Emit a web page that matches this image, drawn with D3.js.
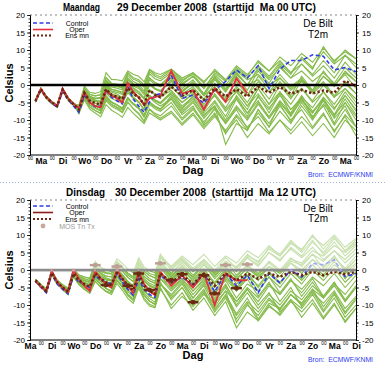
<!DOCTYPE html>
<html><head><meta charset="utf-8">
<script src="https://cdn.jsdelivr.net/npm/d3@7"></script>
<style>
body{margin:0;background:#fff}
svg{display:block;font-family:"Liberation Sans",Arial,Helvetica,sans-serif}
text{white-space:pre}
</style>
</head><body>
<svg id="c" width="386" height="366"></svg>
<script>
// ---------- DATA ----------
const leadHours = [6,12,18,24,30,36,42,48,54,60,66,72,78,84,90,96,102,108,114,120,126,132,138,144,
  156,168,180,192,204,216,228,240,252,264,276,288,300,312,324,336,348,360];
const yTickValues = [-20,-15,-10,-5,0,5,10,15,20];
const dayNamesTop = ["Ma","Di","Wo","Do","Vr","Za","Zo","Ma","Di","Wo","Do","Vr","Za","Zo","Ma"];
const dayNamesBottom = ["Ma","Di","Wo","Do","Vr","Za","Zo","Ma","Di","Wo","Do","Vr","Za","Zo","Ma","Di"];
const titleDayTop = "Maandag", titleRestTop = "29 December 2008  (starttijd  Ma 00 UTC)";
const titleDayBottom = "Dinsdag", titleRestBottom = "30 December 2008  (starttijd  Ma 12 UTC)";

// Top run (Ma 00 UTC)
const topControl = [-4.6,-1.3,-3.6,-5.2,-6.3,-1.8,-4.2,-6.0,
  -7.8,-3.0,-5.0,-6.2,-6.0,-1.5,-3.5,-4.5,-5.4,-0.5,-4.0,-6.0,-7.8,-4.8,-2.9,-2.5,
  2.8,-3.8,-2.9,-5.2,-1.5,1.0,4.3,2.0,5.5,-1.0,4.5,7.0,7.0,8.6,8.2,4.3,5.0,3.8];
const topOper = [-4.5,-1.1,-3.4,-4.9,-5.9,-1.0,-3.8,-5.4,
  -6.6,-2.0,-5.0,-6.0,-6.4,-1.5,-3.0,-3.8,-5.0,0.6,-2.0,-3.5,-5.8,-3.8,-3.5,-3.0,
  4.0,-2.5,-1.5,-7.0,-1.0,-4.8,1.9,-2.4];
const topEnsMean = [-4.6,-1.2,-3.5,-5.0,-6.0,-1.3,-4.0,-5.5,
  -7.0,-2.3,-4.5,-5.2,-5.5,-1.2,-2.8,-3.3,-4.0,-0.8,-2.5,-3.5,-5.5,-1.5,-2.8,-3.5,
  -0.5,-3.0,-1.5,-4.3,-1.0,-3.3,-1.2,-3.3,-0.5,-2.2,-0.6,-2.5,-1.4,-2.4,-1.6,-2.2,1.2,-0.3];
const topMembers = [
 [-4.8,-1.4,-3.7,-5.2,-6.2,-1.5,-4.2,-5.7,-7.6,-3.3,-5.7,-6.6,-7.3,-3.4,-5.0,-5.7,-6.6,-3.6,-5.3,-6.5,-8.7,-5.0,-6.3,-7.0,-4.0,-8.0,-5.0,-9.5,-6.0,-11.0,-7.0,-12.5,-8.0,-12.0,-7.5,-11.0,-6.0,-10.0,-5.5,-9.0,-4.0,-8.5],
 [-4.5,-1.1,-3.4,-4.9,-5.9,-1.2,-3.9,-5.4,-6.4,-1.3,-3.3,-3.8,-3.7,1.0,-0.6,-0.9,-1.4,2.0,0.3,-0.5,-2.3,2.0,0.7,0.0,3.0,0.0,2.5,-1.0,3.5,1.0,5.0,2.5,7.0,4.0,8.0,5.5,9.0,6.5,10.5,7.0,9.5,7.5],
 [-4.6,-1.2,-3.5,-5.0,-6.0,-1.3,-4.0,-5.5,-7.3,-2.8,-5.1,-5.9,-6.4,-2.3,-3.9,-4.5,-5.3,-2.2,-3.9,-5.0,-7.1,-3.3,-4.6,-5.3,-2.0,-6.0,-3.5,-8.5,-6.0,-17.0,-11.0,-13.0,-7.0,-12.0,-5.0,-9.0,-4.0,-8.0,-3.5,-7.0,-2.0,-6.0],
 [-4.4,-1.0,-3.3,-4.8,-5.8,-1.1,-3.7,-5.2,-6.7,-1.8,-3.9,-4.5,-4.6,-0.1,-1.7,-2.1,-2.7,0.6,-1.1,-2.0,-3.9,0.3,-1.1,-1.8,1.5,-2.0,0.5,-3.0,1.5,-2.0,2.5,-1.5,4.0,0.5,5.5,2.0,6.0,3.0,7.0,3.5,8.5,5.0],
 [-4.7,-1.3,-3.6,-5.1,-6.1,-1.4,-4.1,-5.6,-7.9,-3.8,-6.3,-7.3,-8.2,-4.5,-6.1,-6.9,-7.9,-5.0,-6.7,-8.0,-10.3,-6.8,-8.1,-8.8,-6.0,-10.0,-7.0,-11.0,-6.5,-10.5,-6.0,-9.5,-5.0,-9.0,-4.5,-8.0,-3.0,-7.5,-4.0,-9.5,-6.0,-12.0],
 [-4.3,-0.9,-3.2,-4.7,-5.7,-1.0,-3.6,-5.1,-6.1,-0.8,-2.7,-3.1,-2.8,2.1,0.5,0.3,-0.1,3.4,1.7,1.0,-0.7,3.8,2.5,1.8,4.0,1.0,3.5,0.5,4.5,1.5,5.5,3.0,6.5,4.0,7.0,3.5,6.0,2.5,5.5,2.0,6.5,3.0],
 [-4.9,-1.5,-3.8,-5.3,-6.3,-1.6,-4.3,-5.8,-7.0,-2.3,-4.5,-5.2,-5.5,-1.2,-2.8,-3.3,-4.5,-1.5,-3.5,-4.8,-7.0,-3.5,-5.0,-6.0,-4.0,-8.5,-6.0,-11.5,-8.0,-14.0,-9.0,-13.0,-7.0,-11.0,-6.0,-10.0,-7.0,-12.0,-8.0,-13.5,-8.5,-12.0],
 [-4.5,-1.1,-3.4,-4.9,-5.9,-1.2,-3.9,-5.4,-6.7,-1.8,-3.9,-4.5,-4.8,-0.5,-2.5,-3.3,-4.5,-1.5,-3.5,-4.8,-7.0,-3.0,-4.2,-5.0,-2.0,-5.0,-2.5,-5.5,-1.5,-4.0,-0.5,-3.0,1.0,-2.0,2.0,-1.0,1.5,-1.5,2.5,0.0,3.5,1.0],
 [-4.8,-1.4,-3.7,-5.2,-6.2,-1.5,-4.2,-5.7,-7.6,-3.3,-5.7,-6.6,-7.5,-3.8,-5.6,-6.5,-7.8,-4.8,-6.8,-8.3,-10.5,-7.0,-8.5,-9.5,-7.5,-11.0,-8.0,-12.0,-8.5,-13.5,-10.0,-15.0,-11.0,-14.0,-10.0,-13.0,-9.0,-12.5,-8.5,-13.0,-9.0,-14.5],
 [-4.4,-1.0,-3.3,-4.8,-5.8,-1.1,-3.7,-5.2,-6.4,-1.3,-3.3,-3.8,-3.5,1.4,0.0,-0.1,-0.5,3.6,2.1,1.5,0.0,4.3,3.0,2.3,4.5,2.0,3.5,1.0,4.0,1.5,4.5,2.0,5.5,2.5,6.5,3.5,7.5,4.5,11.0,6.5,10.0,7.5],
 [-4.6,-1.2,-3.5,-5.0,-6.0,-1.3,-4.0,-5.5,-7.0,-2.3,-4.5,-5.2,-5.5,-1.2,-2.8,-3.3,-4.0,-0.8,-2.5,-3.5,-5.5,-1.5,-2.8,-3.5,-0.5,-3.5,-1.0,-4.5,-1.5,-5.0,-2.0,-6.0,-2.5,-6.5,-3.0,-7.0,-3.5,-6.5,-2.0,-5.5,-1.0,-4.0],
 [-4.7,-1.3,-3.6,-5.1,-6.1,-1.4,-4.1,-5.6,-7.3,-2.8,-5.1,-5.9,-6.0,-1.5,-2.8,-3.0,-3.5,0.0,-1.5,-2.5,-4.0,0.0,-1.2,-1.8,1.0,-2.5,-0.5,-4.0,0.5,-3.5,1.0,-3.0,2.5,-1.0,3.0,-0.5,2.0,-2.0,1.0,-3.0,0.5,-2.5],
 [-4.5,-1.1,-3.4,-4.9,-5.9,-1.2,-3.9,-5.4,-7.9,-3.8,-6.3,-7.3,-8.0,-4.2,-5.6,-6.3,-7.2,-4.0,-5.5,-6.6,-8.6,-4.8,-6.0,-6.8,-3.5,-7.5,-4.5,-9.0,-5.0,-10.0,-4.0,-9.0,-3.0,-8.0,-2.5,-8.5,-3.5,-9.5,-4.5,-11.0,-5.0,-10.0],
 [-4.4,-1.0,-3.3,-4.8,-5.8,-1.1,-3.7,-5.2,-6.1,-0.8,-2.7,-3.1,-2.8,2.1,0.3,-0.2,-1.0,2.0,0.3,-0.5,-2.3,2.0,0.7,0.0,2.5,-1.0,1.5,-2.5,2.0,-1.5,3.0,0.0,4.5,1.5,5.0,2.0,4.0,1.0,3.5,0.5,5.0,2.0],
 [-4.9,-1.5,-3.8,-5.3,-6.3,-1.6,-4.3,-5.8,-7.3,-2.8,-5.1,-6.1,-6.8,-3.0,-4.8,-5.6,-6.9,-3.8,-5.5,-6.8,-9.3,-5.5,-6.8,-7.5,-5.0,-9.5,-6.5,-10.5,-7.0,-11.0,-6.5,-10.0,-5.5,-9.5,-5.0,-8.5,-4.5,-8.0,-4.0,-8.5,-5.0,-9.0],
 [-4.6,-1.2,-3.5,-5.0,-6.0,-1.3,-4.0,-5.5,-6.7,-1.8,-3.9,-4.5,-4.6,-0.3,-2.0,-2.6,-3.6,-0.5,-2.3,-3.3,-5.3,-1.3,-2.6,-3.3,0.0,-4.0,-2.0,-6.0,-3.0,-7.5,-4.0,-8.0,-3.5,-7.0,-2.0,-5.5,-1.0,-4.5,0.0,-3.5,1.0,-2.5],
 [-4.5,-1.1,-3.4,-4.9,-5.9,-1.2,-3.9,-5.4,-5.8,-0.3,-2.1,-2.4,-1.9,3.5,1.6,1.5,1.2,4.0,3.1,2.5,0.9,4.5,3.5,3.0,4.5,1.5,3.0,-0.5,2.0,-1.5,3.5,0.0,5.0,2.0,6.0,3.0,8.0,5.0,9.5,6.0,8.5,6.0],
 [-4.7,-1.3,-3.6,-5.1,-6.1,-1.4,-4.1,-5.6,-8.2,-4.3,-6.9,-8.0,-9.1,-5.6,-7.2,-8.1,-9.2,-6.4,-8.1,-9.5,-11.0,-8.0,-9.0,-10.0,-8.0,-11.5,-8.5,-12.5,-9.0,-13.0,-8.5,-12.0,-9.0,-13.5,-10.0,-14.0,-10.5,-14.5,-11.0,-15.0,-10.0,-13.0],
 [-4.4,-1.0,-3.3,-4.8,-5.8,-1.1,-3.7,-5.2,-7.0,-2.3,-4.3,-4.8,-4.8,0.0,-1.3,-1.6,-2.0,1.5,-0.3,-1.0,-2.8,1.5,0.2,-0.5,2.0,-1.5,0.5,-3.0,-0.5,-4.5,-1.0,-5.0,0.0,-4.0,1.0,-3.0,2.5,-1.5,4.0,0.0,3.0,-1.0],
 [-4.8,-1.4,-3.7,-5.2,-6.2,-1.5,-4.2,-5.7,-7.6,-3.3,-5.7,-6.6,-7.3,-3.4,-5.0,-5.7,-6.6,-3.6,-5.3,-6.5,-8.7,-5.0,-6.3,-7.0,-3.0,-7.0,-3.0,-7.5,-2.5,-6.5,-1.5,-6.0,-1.0,-5.5,-2.0,-7.0,-4.0,-9.0,-6.0,-11.5,-7.0,-12.0],
 [-4.6,-1.2,-3.5,-5.0,-6.0,-1.3,-4.0,-5.5,-6.4,-1.3,-3.5,-4.3,-5.0,-0.8,-2.9,-3.9,-5.0,-1.7,-3.6,-4.8,-7.0,-3.0,-4.4,-5.3,-2.5,-6.5,-4.0,-8.0,-4.5,-9.0,-3.0,-7.0,-1.0,-5.5,0.0,-4.0,1.5,-2.5,0.5,-3.5,-1.0,-5.0],
 [-4.5,-1.1,-3.4,-4.9,-5.9,-1.2,-3.9,-5.4,-6.7,-1.8,-3.7,-4.0,-3.8,1.0,-0.2,-0.4,-0.8,2.8,1.0,0.2,-1.7,3.2,1.8,1.2,3.5,0.5,2.5,-1.0,3.0,0.0,4.0,1.5,3.0,0.0,2.0,-1.5,1.0,-2.0,2.5,-0.5,4.0,1.0],
 [-4.7,-1.3,-3.6,-5.1,-6.1,-1.4,-4.1,-5.6,-7.3,-2.8,-5.1,-5.9,-6.2,-1.9,-3.3,-3.8,-4.4,-1.1,-2.7,-3.6,-5.5,-1.5,-2.8,-3.5,-1.5,-5.0,-2.5,-6.5,-3.0,-7.0,-3.5,-8.0,-4.5,-9.5,-5.5,-10.5,-5.0,-9.5,-4.0,-8.5,-3.0,-7.5],
 [-4.3,-0.9,-3.2,-4.7,-5.7,-1.0,-3.6,-5.1,-6.4,-1.3,-3.3,-3.8,-3.9,0.5,-1.2,-1.6,-2.4,1.0,-0.8,-1.8,-3.7,0.5,-0.9,-1.6,1.5,-2.0,1.0,-2.5,2.5,-1.0,3.5,0.0,1.5,-2.0,0.5,-3.5,-1.0,-5.0,-2.0,-6.5,-3.0,-7.0]
];

// Bottom run (Ma 12 UTC)
const botControl = [-3.2,-5.0,-6.5,-1.2,-4.0,-5.5,
  -6.8,-1.5,-3.5,-4.0,-5.0,-1.5,-3.0,-3.5,-4.0,-1.0,-3.5,-5.5,-7.2,-2.5,-5.5,-7.0,-7.8,-1.5,
  -4.0,-2.0,-4.5,-1.0,-6.2,-1.0,-4.5,-1.5,-6.5,-1.0,-3.7,0.0,-2.0,1.9,1.5,2.9,-1.9,-1.0];
const botOper = [-3.0,-4.8,-6.0,-0.3,-3.5,-5.0,
  -6.3,0.0,-2.5,-4.5,-6.0,-0.3,-2.5,-4.0,-5.0,0.0,-2.5,-4.5,-6.5,-0.5,-4.0,-6.0,-7.2,-0.5,
  -4.5,-1.5,-5.0,-0.9,-10.0,-1.0,-3.0,-2.9];
const botEnsMean = [-3.0,-4.5,-6.0,-0.8,-3.5,-5.0,
  -6.2,-1.0,-3.0,-4.0,-4.8,-1.0,-2.5,-3.5,-4.0,-0.8,-2.5,-4.5,-5.8,-1.5,-4.5,-6.0,-6.8,-1.0,
  -3.5,-1.5,-4.0,-1.2,-4.5,-1.0,-3.0,-1.0,-2.5,-1.0,-2.0,-0.5,-1.5,-0.5,-1.5,-0.5,-1.2,-0.5];
const botMembers = [
 [-3.0,-4.5,-6.0,-0.8,-3.5,-5.0,-6.2,-1.0,-3.0,-4.0,-4.8,-1.0,-2.5,-3.5,-4.0,-0.8,-2.5,-4.5,-5.8,-1.5,-4.5,-6.0,-6.8,-1.0,-4.0,-1.5,-5.0,-2.0,-6.5,-3.0,-8.0,-4.0,-6.0,-2.0,-5.0,-1.0,-4.0,0.0,-3.0,0.5,-3.5,-0.5],
 [-2.8,-4.3,-5.7,-0.5,-3.2,-4.6,-5.7,-0.4,-2.2,-3.0,-3.6,0.5,-0.9,-1.7,-2.0,1.2,-0.3,-2.1,-3.3,1.0,-1.8,-3.1,-3.8,2.0,-1.0,2.0,-1.5,1.5,-2.0,2.0,-0.5,3.5,1.0,5.0,2.5,6.5,4.0,8.0,5.0,9.0,5.5,8.5],
 [-3.2,-4.7,-6.3,-1.1,-3.8,-5.4,-6.7,-1.6,-3.8,-5.0,-6.0,-2.5,-4.1,-5.3,-6.0,-2.8,-4.7,-6.9,-8.3,-4.0,-7.2,-8.9,-9.8,-4.0,-8.0,-5.0,-9.5,-6.0,-11.0,-7.5,-13.0,-9.0,-12.0,-8.0,-11.0,-7.0,-10.0,-6.5,-9.5,-6.0,-11.0,-7.5],
 [-2.6,-4.1,-5.4,-0.2,-2.9,-4.2,-5.2,0.2,-1.4,-2.0,-2.4,2.0,0.7,0.1,0.0,3.2,1.9,0.3,-0.8,3.5,0.9,-0.2,-0.8,4.5,0.5,3.0,0.0,2.5,-1.0,2.0,1.0,4.0,2.5,6.0,4.0,7.5,6.0,9.5,7.0,10.0,6.5,9.0],
 [-3.1,-4.6,-6.2,-1.0,-3.7,-5.2,-6.5,-1.3,-3.4,-4.5,-5.4,-1.8,-3.3,-4.4,-5.0,-1.8,-3.6,-5.7,-7.1,-2.8,-5.9,-7.5,-8.3,-2.5,-6.0,-3.0,-8.0,-4.5,-10.5,-6.0,-15.0,-10.0,-13.0,-8.5,-11.5,-7.0,-9.5,-5.5,-8.0,-4.5,-9.0,-5.0],
 [-2.9,-4.4,-5.9,-0.7,-3.4,-4.8,-6.0,-0.7,-2.6,-3.5,-4.2,-0.3,-1.7,-2.6,-3.0,0.2,-1.4,-3.3,-4.6,-0.3,-3.2,-4.6,-5.3,0.5,-2.5,0.5,-3.0,0.0,-3.5,0.5,-2.0,1.5,-1.0,2.5,0.0,3.5,1.0,4.5,0.5,4.0,-0.5,3.0],
 [-3.3,-4.8,-6.5,-1.3,-4.0,-5.6,-7.0,-1.9,-4.2,-5.5,-6.6,-3.2,-4.9,-6.2,-7.0,-3.8,-5.8,-8.1,-9.5,-5.2,-8.5,-10.3,-10.8,-5.5,-10.0,-6.5,-11.5,-8.0,-13.0,-9.0,-16.5,-12.0,-14.5,-10.0,-13.0,-9.0,-12.0,-8.5,-13.5,-9.5,-15.0,-11.0],
 [-2.8,-4.3,-5.7,-0.5,-3.2,-4.6,-5.7,-0.4,-2.2,-3.0,-3.6,0.5,-1.2,-2.2,-2.8,0.2,-1.8,-3.8,-5.0,-1.0,-4.0,-5.5,-6.5,-1.5,-5.5,-2.5,-7.0,-3.5,-8.5,-4.5,-9.0,-5.0,-8.0,-4.0,-7.0,-3.0,-6.5,-2.5,-7.5,-3.5,-9.0,-5.0],
 [-3.2,-4.7,-6.3,-1.1,-3.8,-5.4,-6.7,-1.6,-3.6,-4.5,-5.2,-1.5,-2.8,-3.6,-3.8,0.0,-1.6,-3.5,-4.6,0.5,-2.5,-3.8,-4.5,1.5,-1.5,1.0,-2.0,1.5,-1.0,2.5,0.5,3.5,1.5,5.0,3.0,6.0,3.5,6.5,3.0,5.5,2.0,5.0],
 [-3.0,-4.5,-6.0,-0.8,-3.5,-5.0,-6.2,-1.0,-3.0,-4.0,-4.8,-1.0,-2.5,-3.5,-4.0,-0.8,-2.5,-4.5,-5.8,-1.5,-4.5,-6.0,-6.8,-1.0,-3.5,-0.5,-4.0,-1.0,-5.0,-1.5,-6.0,-2.5,-7.5,-3.5,-9.0,-5.0,-10.5,-6.0,-11.5,-7.0,-12.5,-8.5],
 [-2.7,-4.2,-5.6,-0.3,-3.0,-4.4,-5.4,-0.1,-1.8,-2.5,-3.0,1.3,-0.1,-0.8,-1.0,2.2,0.8,-0.9,-2.0,2.3,-0.4,-1.6,-2.3,3.5,0.0,3.0,-0.5,2.0,-1.5,1.5,-2.5,0.5,-2.0,1.0,-0.5,2.5,1.5,4.5,2.5,5.5,3.0,6.0],
 [-3.1,-4.6,-6.2,-1.0,-3.7,-5.2,-6.5,-1.3,-3.4,-4.5,-5.4,-1.8,-3.3,-4.4,-5.0,-1.8,-3.6,-5.7,-7.1,-2.8,-5.9,-7.5,-8.3,-2.5,-5.0,-2.5,-6.0,-3.0,-7.0,-2.5,-6.0,-1.5,-4.5,-0.5,-3.5,0.0,-3.0,0.5,-2.0,1.5,-1.0,2.0],
 [-2.9,-4.4,-5.9,-0.7,-3.4,-4.8,-6.0,-0.7,-2.8,-4.0,-5.0,-1.5,-3.2,-4.4,-5.2,-2.0,-4.0,-6.2,-7.6,-3.2,-6.5,-8.2,-9.2,-3.5,-8.5,-5.0,-10.0,-6.5,-12.0,-8.0,-14.0,-9.5,-14.5,-10.5,-12.5,-8.5,-11.0,-7.0,-12.0,-8.0,-13.5,-10.0],
 [-2.8,-4.3,-5.7,-0.5,-3.2,-4.6,-5.7,-0.4,-2.2,-3.0,-3.6,0.5,-0.9,-1.7,-2.0,1.2,-0.3,-2.1,-3.3,1.0,-1.8,-3.1,-3.8,2.0,-2.0,1.0,-3.5,-0.5,-4.0,0.0,-3.0,1.0,-1.5,2.0,-0.5,3.0,2.0,5.5,4.0,7.0,5.0,7.5],
 [-3.2,-4.7,-6.3,-1.1,-3.8,-5.4,-6.7,-1.6,-3.8,-5.0,-6.0,-2.5,-4.1,-5.3,-6.0,-2.8,-4.7,-6.9,-8.3,-4.0,-7.2,-8.9,-9.8,-4.0,-7.0,-3.5,-8.0,-4.0,-9.0,-5.0,-10.5,-6.5,-11.0,-7.0,-10.0,-6.0,-8.5,-4.5,-7.5,-3.5,-8.5,-4.5],
 [-2.6,-4.1,-5.4,-0.2,-2.9,-4.2,-5.2,0.2,-1.4,-2.0,-2.4,2.5,0.7,0.1,-0.5,2.0,0.5,-1.5,-2.5,1.8,-1.0,-2.5,-3.2,2.5,-1.0,2.5,-0.5,3.0,0.0,3.5,0.5,4.5,2.0,6.5,4.5,8.5,5.5,10.0,6.0,9.5,5.5,8.0],
 [-3.0,-4.5,-6.0,-0.8,-3.5,-5.0,-6.2,-1.0,-3.2,-4.5,-5.6,-2.2,-4.0,-5.3,-6.2,-3.0,-5.0,-7.3,-8.8,-4.6,-8.0,-9.8,-10.5,-5.0,-11.0,-7.5,-10.5,-7.0,-9.5,-6.0,-9.0,-5.5,-10.0,-6.5,-12.0,-8.5,-13.5,-9.5,-14.0,-10.0,-14.5,-11.0],
 [-2.9,-4.4,-5.9,-0.7,-3.4,-4.8,-6.0,-0.7,-2.6,-3.5,-4.2,-0.3,-1.7,-2.6,-3.0,0.2,-1.4,-3.3,-4.6,-0.3,-3.2,-4.6,-5.3,0.5,-3.0,0.0,-4.5,-1.0,-6.0,-2.0,-5.0,-0.5,-3.0,1.0,-2.0,2.0,-1.0,3.0,-0.5,3.5,0.5,4.0],
 [-3.1,-4.6,-6.2,-1.0,-3.7,-5.2,-6.5,-1.3,-3.2,-4.0,-4.6,-0.6,-2.0,-2.9,-3.2,0.4,-1.3,-3.2,-4.5,0.0,-2.9,-4.3,-5.0,1.0,-2.0,1.5,-2.5,0.5,-4.0,-0.5,-5.5,-1.5,-6.0,-2.0,-6.5,-2.5,-7.5,-3.5,-8.0,-4.0,-7.0,-3.0],
 [-3.3,-4.8,-6.5,-1.3,-4.0,-5.6,-7.0,-1.9,-4.2,-5.5,-6.6,-3.2,-4.9,-6.0,-6.5,-3.0,-4.9,-7.0,-8.4,-4.0,-7.2,-8.9,-9.8,-4.0,-7.5,-4.0,-9.0,-5.5,-11.5,-7.0,-12.5,-8.0,-14.0,-9.5,-11.0,-7.0,-9.5,-5.5,-10.5,-6.5,-12.0,-8.0],
 [-2.7,-4.2,-5.6,-0.3,-3.0,-4.4,-5.4,-0.1,-1.8,-2.5,-3.0,1.3,-0.1,-0.8,-1.0,2.2,0.8,-0.9,-2.0,2.3,-0.4,-1.6,-2.3,3.5,1.0,4.0,1.5,4.5,1.0,4.0,2.0,5.5,3.5,7.0,4.0,8.0,5.0,8.5,4.5,8.0,4.0,7.0],
 [-3.0,-4.5,-6.0,-0.8,-3.5,-5.0,-6.2,-1.0,-3.0,-4.0,-4.8,-1.0,-2.5,-3.5,-4.0,-0.8,-2.5,-4.5,-5.8,-1.5,-4.5,-6.0,-6.8,-1.0,-4.5,-1.0,-6.0,-2.5,-8.0,-4.0,-10.0,-5.5,-9.0,-4.5,-7.0,-3.0,-5.5,-2.0,-4.5,-1.0,-5.0,-1.5],
 [-3.2,-4.7,-6.3,-1.1,-3.8,-5.4,-6.7,-1.6,-3.6,-4.7,-5.5,-1.9,-3.3,-4.3,-4.7,-1.4,-3.0,-5.0,-6.2,-1.8,-4.8,-6.3,-7.0,-1.0,-3.0,0.5,-2.0,1.5,-2.5,1.0,-4.0,-0.5,-5.0,-1.0,-4.0,0.0,-2.5,1.5,-1.5,2.5,-2.5,1.5],
 [-2.9,-4.4,-5.9,-0.7,-3.4,-4.8,-6.0,-0.7,-2.4,-3.0,-3.4,1.0,-0.5,-1.0,-1.2,2.5,1.0,-1.0,-2.0,3.0,0.3,-1.0,-1.5,4.0,1.0,3.5,0.5,3.0,-0.5,2.5,-1.5,1.5,-2.0,1.0,-1.0,2.0,0.0,3.0,1.0,4.0,0.0,3.0]
];
const mosTnHours = [84,108,132,156,180,204,228];
const mosTnValues = [-4.3,-4.5,-5.7,-2.9,-9.2,-6.7,-5.2];
const mosTxHours = [72,96,120,144,168,192,216,240];
const mosTxValues = [1.4,1.0,-1.0,1.9,-1.2,-1.5,1.4,1.6];

// ---------- STYLE ----------
const C = {plume:"#84bb4a", control:"#2f3ce8", oper:"#e3303f", mean:"#6e2412", mos:"#6b2a14"};

const svg = d3.select("#c");
svg.append("rect").attr("width",386).attr("height",366).attr("fill","#fff");

function drawPanel(cfg){
  const g = svg.append("g");
  const x = d3.scaleLinear().domain([0,360]).range([30,356]);
  const y = d3.scaleLinear().domain([-20,20]).range([cfg.y1, cfg.y0]);
  const line = d3.line().x((d,i)=>x(leadHours[i])).y(d=>y(d));

  g.append("line").attr("x1",30).attr("x2",356).attr("y1",cfg.y0).attr("y2",cfg.y0)
    .attr("stroke","#666").attr("stroke-width",0.8).attr("stroke-dasharray","2,3");

  g.append("g").selectAll("path").data(cfg.members).join("path")
    .attr("d", line).attr("fill","none").attr("stroke",C.plume).attr("stroke-width",1.1);

  g.append("line").attr("x1",30).attr("x2",356).attr("y1",y(0)).attr("y2",y(0))
    .attr("stroke","#000").attr("stroke-width",2.6);

  g.append("path").attr("d",line(cfg.control)).attr("fill","none").attr("stroke",C.control)
    .attr("stroke-width",1.6).attr("stroke-dasharray","4,2.5");
  g.append("path").attr("d",line(cfg.oper)).attr("fill","none").attr("stroke",C.oper)
    .attr("stroke-width",1.8);
  g.append("path").attr("d",line(cfg.mean)).attr("fill","none").attr("stroke",C.mean)
    .attr("stroke-width",2.6).attr("stroke-dasharray","2.2,2.2");

  if (cfg.mos){
    const mosData = mosTnHours.map((h,i)=>[h,mosTnValues[i]]).concat(mosTxHours.map((h,i)=>[h,mosTxValues[i]]));
    const mg = g.append("g");
    mg.selectAll("line").data(mosData).join("line")
      .attr("x1",d=>x(d[0]-6)).attr("x2",d=>x(d[0]+6)).attr("y1",d=>y(d[1])).attr("y2",d=>y(d[1]))
      .attr("stroke",C.mos).attr("stroke-width",2.4);
    mg.selectAll("circle").data(mosData).join("circle")
      .attr("cx",d=>x(d[0])).attr("cy",d=>y(d[1])).attr("r",2.4).attr("fill",C.mos);
    g.append("rect").attr("x",0).attr("width",386).attr("y",cfg.overlayTop).attr("height",y(0)+1.4-cfg.overlayTop)
      .attr("fill","#fff").attr("opacity",0.55);
  }

  const axL = g.append("g").attr("transform","translate(30,0)")
    .call(d3.axisLeft(y).tickValues(yTickValues).tickSize(3).tickSizeOuter(0).tickPadding(2).tickFormat(d=>String(d)));
  const axLm = g.append("g").attr("transform","translate(30,0)")
    .call(d3.axisLeft(y).tickValues(d3.range(-20,21,1)).tickSize(1.5).tickSizeOuter(0).tickFormat(""));
  const axR = g.append("g").attr("transform","translate(356,0)")
    .call(d3.axisRight(y).tickValues(yTickValues).tickSize(3).tickSizeOuter(0).tickPadding(3).tickFormat(d=>String(d)));
  const axRm = g.append("g").attr("transform","translate(356,0)")
    .call(d3.axisRight(y).tickValues(d3.range(-20,21,1)).tickSize(1.5).tickSizeOuter(0).tickFormat(""));
  [axL,axLm,axR,axRm].forEach(a=>{
    a.select(".domain").attr("stroke","#000").attr("stroke-width",1);
    a.selectAll(".tick line").attr("stroke","#000").attr("stroke-width",0.8);
    a.selectAll("text").attr("font-size",8).attr("fill","#000").attr("font-family","Liberation Sans, Arial, sans-serif");
  });

  g.append("line").attr("x1",30).attr("x2",356).attr("y1",cfg.y1).attr("y2",cfg.y1).attr("stroke","#000").attr("stroke-width",1);
  const dayHours = cfg.dayNames.map((_,i)=>cfg.dayOffset + 24*i);
  const zeroHours = cfg.zeroCount.map((_,i)=>cfg.zeroOffset + 24*i);
  const axD = g.append("g").attr("transform",`translate(0,${cfg.y1})`)
    .call(d3.axisBottom(x).tickValues(dayHours).tickSize(0).tickPadding(2.5).tickFormat((d,i)=>cfg.dayNames[i]));
  axD.select(".domain").remove();
  axD.selectAll("text").attr("font-size",8.5).attr("font-weight","bold").attr("fill","#000")
    .attr("font-family","Liberation Sans, Arial, sans-serif");
  const axZ = g.append("g").attr("transform",`translate(0,${cfg.y1})`)
    .call(d3.axisBottom(x).tickValues(zeroHours).tickSize(0).tickPadding(1.8).tickFormat(()=> "00"));
  axZ.select(".domain").remove();
  axZ.selectAll("text").attr("font-size",4.6).attr("fill","#000").attr("font-family","Liberation Sans, Arial, sans-serif");

  g.append("text").attr("x",cfg.titleX1).attr("y",cfg.titleY).attr("font-size",10.5).attr("font-weight","bold")
    .attr("textLength",cfg.titleLen1).attr("lengthAdjust","spacingAndGlyphs").text(cfg.titleDay);
  g.append("text").attr("x",cfg.titleX2).attr("y",cfg.titleY).attr("font-size",10.5).attr("font-weight","bold")
    .attr("textLength",316-cfg.titleX2).attr("lengthAdjust","spacingAndGlyphs").text(cfg.titleRest);
  g.append("text").attr("x",318).attr("y",cfg.y0+12).attr("text-anchor","middle").attr("font-size",10).text("De Bilt");
  g.append("text").attr("x",318).attr("y",cfg.y0+cfg.t2mDy).attr("text-anchor","middle").attr("font-size",10).text("T2m");
  g.append("text").attr("transform",`translate(13,${cfg.celsiusY}) rotate(-90)`).attr("text-anchor","middle")
    .attr("font-size",11).attr("font-weight","bold").text("Celsius");
  g.append("text").attr("x",193).attr("y",cfg.y1+19).attr("text-anchor","middle").attr("font-size",11)
    .attr("font-weight","bold").text("Dag");
  g.append("text").attr("x",308).attr("y",cfg.y1+21.5).attr("font-size",6.5).attr("fill","#2a3cf0")
    .attr("textLength",65).attr("lengthAdjust","spacingAndGlyphs").text("Bron:  ECMWF/KNMI");

  const L = g.append("g");
  const ly = cfg.legendY;
  L.append("line").attr("x1",33).attr("x2",53).attr("y1",ly[0]).attr("y2",ly[0]).attr("stroke",C.control)
    .attr("stroke-width",1.4).attr("stroke-dasharray","4,2.5");
  L.append("line").attr("x1",33).attr("x2",53).attr("y1",ly[1]).attr("y2",ly[1]).attr("stroke",cfg.operLegend)
    .attr("stroke-width",1.6);
  L.append("line").attr("x1",33).attr("x2",53).attr("y1",ly[2]).attr("y2",ly[2]).attr("stroke",C.mean)
    .attr("stroke-width",2.2).attr("stroke-dasharray","2,2");
  const names = ["Control","Oper","Ens mn"];
  names.forEach((n,i)=>L.append("text").attr("x",77).attr("y",ly[i]+2.5).attr("text-anchor","middle")
    .attr("font-size",7).text(n));
  if (cfg.mos){
    L.append("circle").attr("cx",43).attr("cy",ly[3]).attr("r",2.4).attr("fill","#c9a79a");
    L.append("text").attr("x",77).attr("y",ly[3]+2.5).attr("text-anchor","middle").attr("font-size",7)
      .attr("fill","#9a9a9a").text("MOS Tn Tx");
  }
}

drawPanel({y0:15, y1:155, members:topMembers, control:topControl, oper:topOper, mean:topEnsMean,
  dayNames:dayNamesTop, dayOffset:12, zeroCount:d3.range(16), zeroOffset:0,
  titleDay:titleDayTop, titleRest:titleRestTop, titleX1:63, titleLen1:37, titleX2:117, titleY:11,
  t2mDy:22.5, celsiusY:83, legendY:[23,29.5,35.5], operLegend:C.oper, mos:false});

svg.append("line").attr("x1",0).attr("x2",386).attr("y1",182.5).attr("y2",182.5)
  .attr("stroke","#9fb0dd").attr("stroke-width",1).attr("stroke-dasharray","1,2");

drawPanel({y0:200, y1:340, members:botMembers, control:botControl, oper:botOper, mean:botEnsMean,
  dayNames:dayNamesBottom, dayOffset:0, zeroCount:d3.range(15), zeroOffset:12,
  titleDay:titleDayBottom, titleRest:titleRestBottom, titleX1:66, titleLen1:39, titleX2:115, titleY:196,
  t2mDy:22, celsiusY:270, legendY:[206,212.5,219,226], operLegend:"#8b1c1c", mos:true, overlayTop:230});
</script>
</body></html>
